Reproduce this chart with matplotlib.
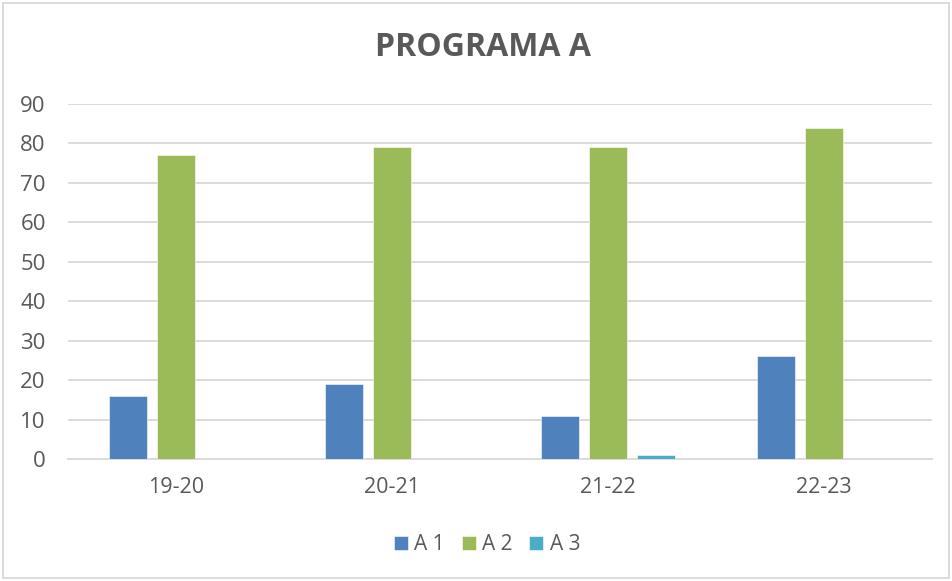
import matplotlib
matplotlib.use('Agg')
import matplotlib.pyplot as plt
import numpy as np
from matplotlib.patches import Rectangle

# data
years = ['19-20', '20-21', '21-22', '22-23']
a1 = [16, 19, 11, 26]
a2 = [77, 79, 79, 84]
a3 = [0, 0, 1, 0]
series_names = ['A 1', 'A 2', 'A 3']
yticks = list(range(0, 100, 10))

cols = ['#4F81BD', '#9BBB59', '#4BACC6']
textcol = '#595959'
gridcol = '#D9D9D9'

plt.rcParams['font.family'] = ['Open Sans', 'DejaVu Sans']

f = plt.figure(figsize=(9.52, 5.81), dpi=100)
ax = f.add_axes([68/952, 1-459/581, (932-68)/952, (459-104)/581])

x = np.arange(len(years))
w = 0.176
off = 0.222
for i, vals in enumerate([a1, a2, a3]):
    ax.bar(x + (i-1)*off, vals, width=w, color=cols[i], label=series_names[i],
           edgecolor='white', linewidth=0.4, zorder=3)

ax.set_xlim(-0.5, len(years)-0.5)
ax.set_ylim(0, 90)
ax.set_yticks(yticks)
ax.set_xticks(x)
ax.set_xticklabels(years)
ax.yaxis.grid(True, color=gridcol, linewidth=1.3, zorder=0)
ax.set_axisbelow(True)
for s in ['top', 'right', 'left']:
    ax.spines[s].set_visible(False)
ax.spines['bottom'].set_color(gridcol)
ax.spines['bottom'].set_linewidth(1.3)
ax.tick_params(axis='y', length=0, labelsize=16, colors=textcol, pad=16)
ax.tick_params(axis='x', length=0, labelsize=15.5, colors=textcol, pad=13)

f.text(483/952, 1-48/581, 'PROGRAMA A', ha='center', va='center', fontsize=23,
       fontweight='bold', color=textcol)

leg = f.legend(loc='center', bbox_to_anchor=(487/952, 1-545/581), ncol=3, frameon=False,
               fontsize=15, handlelength=0.68, handleheight=0.68, handletextpad=0.3,
               columnspacing=0.8, borderpad=0.2)
for t in leg.get_texts():
    t.set_color(textcol)

f.patches.append(Rectangle((3/952, 3/581), 946/952, 575/581, transform=f.transFigure,
                           fill=False, edgecolor=gridcol, linewidth=1.3))

f.savefig('out.png', dpi=100)
